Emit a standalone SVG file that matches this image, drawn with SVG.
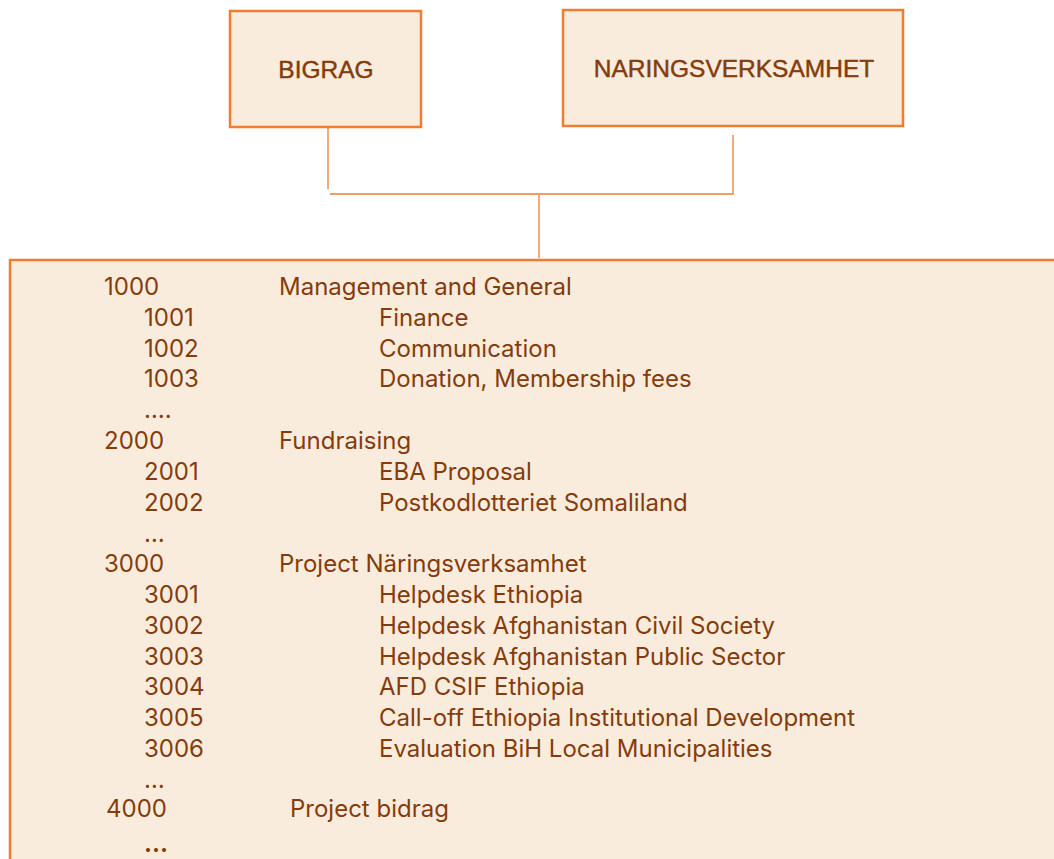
<svg xmlns="http://www.w3.org/2000/svg" width="1054" height="859" viewBox="0 0 1054 859">
  <style>
    .box { fill: #F9ECDD; stroke: #ED7D31; stroke-width: 2.5; }
    .wire { fill: none; stroke: #ED7D31; stroke-width: 1.3; }
    .head { font-family: "Liberation Sans", Arial, sans-serif; font-size: 24.5px; fill: #843C0C; stroke: #843C0C; stroke-width: 0.45; text-anchor: middle; }
    .row { font-family: Inter, "Noto Sans", sans-serif; font-size: 24px; fill: #843C0C; }
  </style>
  <rect width="1054" height="859" fill="#FFFFFF"/>

  <g id="node-bigrag">
    <rect class="box" x="230" y="11" width="191" height="116"/>
    <text class="head" x="326" y="78">BIGRAG</text>
  </g>

  <g id="node-naringsverksamhet">
    <rect class="box" x="563" y="10" width="340" height="116"/>
    <text class="head" x="734" y="77">NARINGSVERKSAMHET</text>
  </g>

  <g id="connectors">
    <path class="wire" d="M328 128 V189"/>
    <path class="wire" d="M733 135 V194 H330"/>
    <path class="wire" d="M539 195 V258"/>
  </g>

  <g id="node-accounts">
    <rect class="box" x="10" y="260" width="1060" height="620"/>
    <text class="row" x="104" y="295">1000</text>
    <text class="row" x="279" y="295">Management and General</text>
    <text class="row" x="144" y="326">1001</text>
    <text class="row" x="379" y="326">Finance</text>
    <text class="row" x="144" y="357">1002</text>
    <text class="row" x="379" y="357">Communication</text>
    <text class="row" x="144" y="387">1003</text>
    <text class="row" x="379" y="387">Donation, Membership fees</text>
    <text class="row" x="144" y="418">….</text>
    <text class="row" x="104" y="449">2000</text>
    <text class="row" x="279" y="449">Fundraising</text>
    <text class="row" x="144" y="480">2001</text>
    <text class="row" x="379" y="480">EBA Proposal</text>
    <text class="row" x="144" y="511">2002</text>
    <text class="row" x="379" y="511">Postkodlotteriet Somaliland</text>
    <text class="row" x="144" y="542">…</text>
    <text class="row" x="104" y="572">3000</text>
    <text class="row" x="279" y="572">Project Näringsverksamhet</text>
    <text class="row" x="144" y="603">3001</text>
    <text class="row" x="379" y="603">Helpdesk Ethiopia</text>
    <text class="row" x="144" y="634">3002</text>
    <text class="row" x="379" y="634">Helpdesk Afghanistan Civil Society</text>
    <text class="row" x="144" y="665">3003</text>
    <text class="row" x="379" y="665">Helpdesk Afghanistan Public Sector</text>
    <text class="row" x="144" y="695">3004</text>
    <text class="row" x="379" y="695">AFD CSIF Ethiopia</text>
    <text class="row" x="144" y="726">3005</text>
    <text class="row" x="379" y="726">Call-off Ethiopia Institutional Development</text>
    <text class="row" x="144" y="757">3006</text>
    <text class="row" x="379" y="757">Evaluation BiH Local Municipalities</text>
    <text class="row" x="144" y="788">…</text>
    <text class="row" x="106" y="817">4000</text>
    <text class="row" x="290" y="817">Project bidrag</text>
    <text class="row" x="144" y="852" font-weight="bold">…</text>
  </g>
</svg>
